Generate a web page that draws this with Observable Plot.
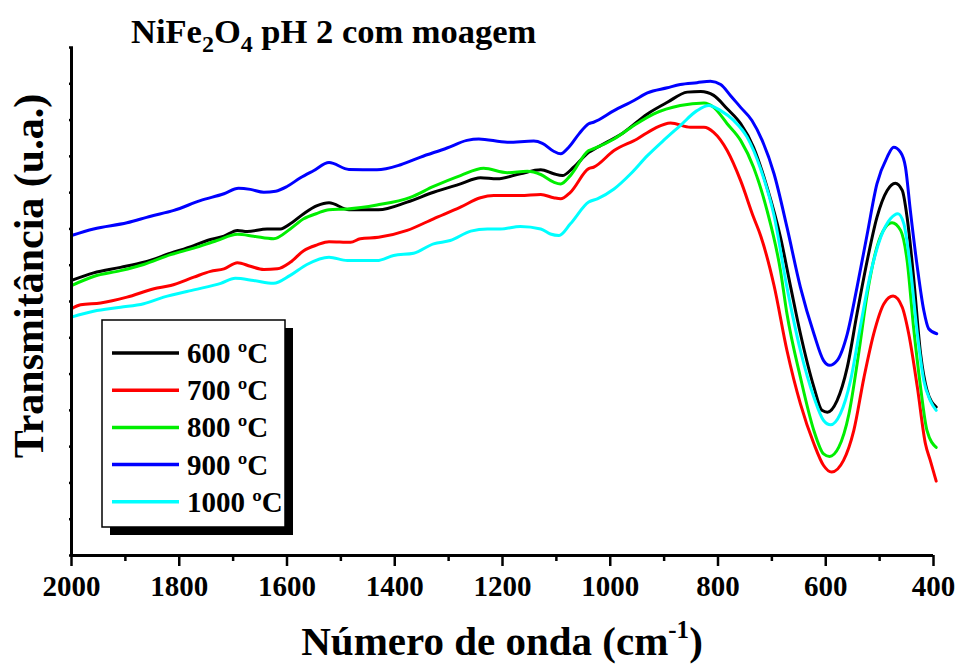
<!DOCTYPE html>
<html>
<head>
<meta charset="utf-8">
<script src="https://cdn.jsdelivr.net/npm/d3@7"></script>
<script src="https://cdn.jsdelivr.net/npm/@observablehq/plot@0.6"></script>
<style>
  body { margin: 0; background: #fff; }
  #chart svg { display: block; }
</style>
</head>
<body>
<div id="chart"></div>
<script>
// FTIR spectra of NiFe2O4 (pH 2, milled) calcined at different temperatures.
// Wavenumbers in cm^-1, transmittance in arbitrary units.

const wn600 = [2000,1959,1909,1866,1816,1773,1748,1717,1692,1674,1637,1612,1594,1569,1544,1522,1485,1430,1377,1328,1278,1241,1210,1167,1129,1105,1089,1068,1040,1024,975,931,894,857,832,808,783,758,734,709,684,665,647,622,607,597,579,560,542,523,505,486,471,458,449,437,424,412,395];
const t600  = [7.58,7.79,7.94,8.08,8.33,8.54,8.68,8.80,8.96,8.93,9.00,9.00,9.14,9.42,9.64,9.72,9.53,9.53,9.74,10.01,10.24,10.41,10.38,10.52,10.63,10.52,10.47,10.70,11.11,11.25,11.66,12.17,12.49,12.77,12.79,12.68,12.31,11.90,11.25,10.15,8.77,7.39,6.11,4.64,4.00,3.95,4.27,5.19,6.66,8.13,9.32,10.06,10.26,10.06,9.32,7.67,5.56,4.55,4.09];

const wn700 = [2000,1983,1946,1897,1847,1816,1773,1742,1717,1692,1668,1643,1618,1594,1569,1544,1522,1482,1464,1430,1377,1328,1278,1241,1216,1167,1129,1105,1092,1074,1040,1031,993,950,919,888,851,826,808,783,758,734,721,696,672,647,622,604,589,567,548,529,511,492,475,458,446,430,415,406,395];
const t700  = [6.80,6.91,6.96,7.12,7.35,7.44,7.67,7.83,7.90,8.07,7.97,7.88,7.90,8.08,8.40,8.56,8.65,8.63,8.73,8.77,8.96,9.28,9.60,9.86,9.92,9.92,9.95,9.86,9.83,10.01,10.66,10.70,11.16,11.48,11.76,11.92,11.80,11.80,11.66,11.16,10.33,9.32,8.82,7.44,5.65,4.18,3.08,2.48,2.30,2.62,3.44,4.91,6.11,6.94,7.15,6.84,6.11,4.64,3.08,2.62,2.05];

const wn800 = [2000,1959,1909,1866,1816,1773,1730,1692,1662,1625,1594,1569,1544,1522,1488,1433,1371,1328,1278,1235,1191,1154,1129,1105,1092,1074,1040,1031,993,956,919,870,826,808,783,758,734,709,684,672,647,622,604,593,576,557,539,523,505,489,477,461,449,437,424,412,395];
const t800  = [7.44,7.69,7.85,8.02,8.29,8.47,8.68,8.85,8.80,8.73,9.00,9.28,9.43,9.53,9.55,9.66,9.87,10.17,10.47,10.67,10.55,10.59,10.50,10.29,10.24,10.47,11.16,11.21,11.48,11.85,12.17,12.40,12.47,12.35,11.90,11.44,10.70,9.51,7.85,6.66,4.91,3.44,2.80,2.73,2.98,3.90,5.56,7.21,8.50,9.05,9.17,8.96,8.13,6.29,4.64,3.44,2.98];

const wn900 = [2000,1959,1897,1853,1810,1761,1717,1690,1668,1643,1621,1600,1575,1550,1522,1485,1433,1389,1352,1303,1266,1244,1191,1142,1126,1105,1092,1077,1058,1040,1031,993,956,931,894,870,839,814,795,777,758,737,718,696,672,647,622,604,593,579,560,542,523,505,486,474,461,452,443,430,418,409,394];
const t900  = [8.82,9.00,9.17,9.35,9.51,9.78,9.97,10.12,10.09,10.01,10.04,10.17,10.41,10.61,10.83,10.64,10.63,10.77,10.98,11.23,11.44,11.48,11.39,11.42,11.36,11.14,11.07,11.25,11.62,11.90,11.94,12.26,12.54,12.75,12.89,12.98,13.03,13.07,12.98,12.68,12.35,11.99,11.44,10.52,9.05,7.39,6.11,5.37,5.24,5.37,6.11,7.39,8.86,10.24,10.98,11.25,11.11,10.70,9.51,7.94,6.75,6.25,6.11];

const wn1000 = [2000,1959,1909,1866,1829,1773,1723,1696,1662,1625,1594,1563,1522,1488,1433,1402,1365,1328,1297,1259,1228,1204,1167,1129,1111,1095,1074,1040,1024,993,962,931,901,870,839,817,795,771,746,721,696,672,647,622,604,591,573,554,536,517,498,480,466,455,443,430,418,406,395];
const t1000  = [6.57,6.73,6.84,6.94,7.12,7.32,7.50,7.64,7.58,7.50,7.72,8.02,8.22,8.13,8.13,8.27,8.33,8.59,8.68,8.94,9.00,9.00,9.07,9.00,8.86,8.82,9.14,9.74,9.83,10.10,10.52,11.02,11.44,11.85,12.26,12.40,12.26,11.99,11.53,10.66,9.37,7.39,5.65,4.36,3.72,3.60,3.90,4.82,6.29,7.76,8.77,9.28,9.42,9.14,7.94,6.11,4.82,4.27,4.00];

const seriesLabels = ["600 ºC", "700 ºC", "800 ºC", "900 ºC", "1000 ºC"];
const seriesColors = ["#000000", "#ff0000", "#00ee00", "#0000ff", "#00ffff"];
const xMajorTicks = [2000, 1800, 1600, 1400, 1200, 1000, 800, 600, 400];
const xMinorTicks = [1900, 1700, 1500, 1300, 1100, 900, 700, 500];
const yTicks = [0,1,2,3,4,5,6,7,8,9,10,11,12,13,14];

const titleText = {main: "NiFe", sub1: "2", mid: "O", sub2: "4", rest: " pH 2 com moagem"};
const xLabel = {main: "Número de onda (cm", sup: "-1", end: ")"};
const yLabel = "Transmitância (u.a.)";

// long-format table built from the per-series arrays
const spectra = [
  [wn600, t600], [wn700, t700], [wn800, t800], [wn900, t900], [wn1000, t1000]
];
const rows = spectra.flatMap(([wn, t], k) =>
  wn.map((w, i) => ({wn: w, t: t[i], label: seriesLabels[k]}))
);

const FONT = '"Liberation Serif", "Times New Roman", serif';
const W = 955, H = 664;
const M = {left: 71, right: 22, top: 47, bottom: 109};

const chart = Plot.plot({
  width: W,
  height: H,
  marginLeft: M.left,
  marginRight: M.right,
  marginTop: M.top,
  marginBottom: M.bottom,
  style: {fontFamily: FONT, fontWeight: "bold", background: "#fff", color: "#000", overflow: "visible"},
  x: {domain: [2000, 400]},
  y: {domain: [0, 14]},
  color: {domain: seriesLabels, range: seriesColors},
  marks: [
    Plot.axisX({ticks: xMinorTicks, tickSize: 6, tickFormat: () => "", strokeWidth: 2.5, label: null}),
    Plot.axisX({ticks: xMajorTicks, tickSize: 11, tickPadding: 9, fontSize: 29, strokeWidth: 2.5, label: null, tickFormat: d => String(d)}),
    Plot.axisY({ticks: yTicks, tickSize: 4, dx: 2, tickFormat: () => "", strokeWidth: 2.5, label: null}),
    Plot.line(rows, {x: "wn", y: "t", z: "label", stroke: "label", strokeWidth: 3, curve: "monotone-x"}),
    Plot.ruleX([2000], {strokeWidth: 3}),
    Plot.ruleY([0], {strokeWidth: 3})
  ]
});

const svg = d3.select(chart);

// title with subscripts
const title = svg.append("text")
  .attr("x", 131).attr("y", 43)
  .attr("text-anchor", "start")
  .attr("font-family", FONT).attr("font-weight", "bold").attr("font-size", 34.5)
  .style("white-space", "pre");
title.append("tspan").text(titleText.main);
title.append("tspan").attr("font-size", 24).attr("dy", 9).text(titleText.sub1);
title.append("tspan").attr("dy", -9).text(titleText.mid);
title.append("tspan").attr("font-size", 24).attr("dy", 9).text(titleText.sub2);
title.append("tspan").attr("dy", -9).text(titleText.rest);

// x-axis label with superscript
const xl = svg.append("text")
  .attr("x", (M.left + W - M.right) / 2).attr("y", 655)
  .attr("text-anchor", "middle")
  .attr("font-family", FONT).attr("font-weight", "bold").attr("font-size", 41);
xl.append("tspan").text(xLabel.main);
xl.append("tspan").attr("font-size", 25).attr("dy", -17).text(xLabel.sup);
xl.append("tspan").attr("dy", 17).text(xLabel.end);

// y-axis label
svg.append("text")
  .attr("transform", "translate(43,276) rotate(-90)")
  .attr("text-anchor", "middle")
  .attr("font-family", FONT).attr("font-weight", "bold").attr("font-size", 42)
  .text(yLabel);

// legend box with drop shadow
const lg = svg.append("g")
  .attr("font-family", FONT).attr("font-weight", "bold").attr("text-anchor", "start");
const box = {x: 102, y: 320, w: 183, h: 207, shadow: 8};
lg.append("rect")
  .attr("x", box.x + box.shadow).attr("y", box.y + box.shadow)
  .attr("width", box.w).attr("height", box.h).attr("fill", "#000");
lg.append("rect")
  .attr("x", box.x).attr("y", box.y).attr("width", box.w).attr("height", box.h)
  .attr("fill", "#fff").attr("stroke", "#000").attr("stroke-width", 1.5);
seriesLabels.forEach((lab, i) => {
  const y = 353 + i * 37.2;
  lg.append("line")
    .attr("x1", 112).attr("x2", 179).attr("y1", y).attr("y2", y)
    .attr("stroke", seriesColors[i]).attr("stroke-width", 3.5);
  lg.append("text")
    .attr("x", 187).attr("y", y + 10)
    .attr("font-size", 29)
    .text(lab);
});

document.getElementById("chart").appendChild(chart);
</script>
</body>
</html>
